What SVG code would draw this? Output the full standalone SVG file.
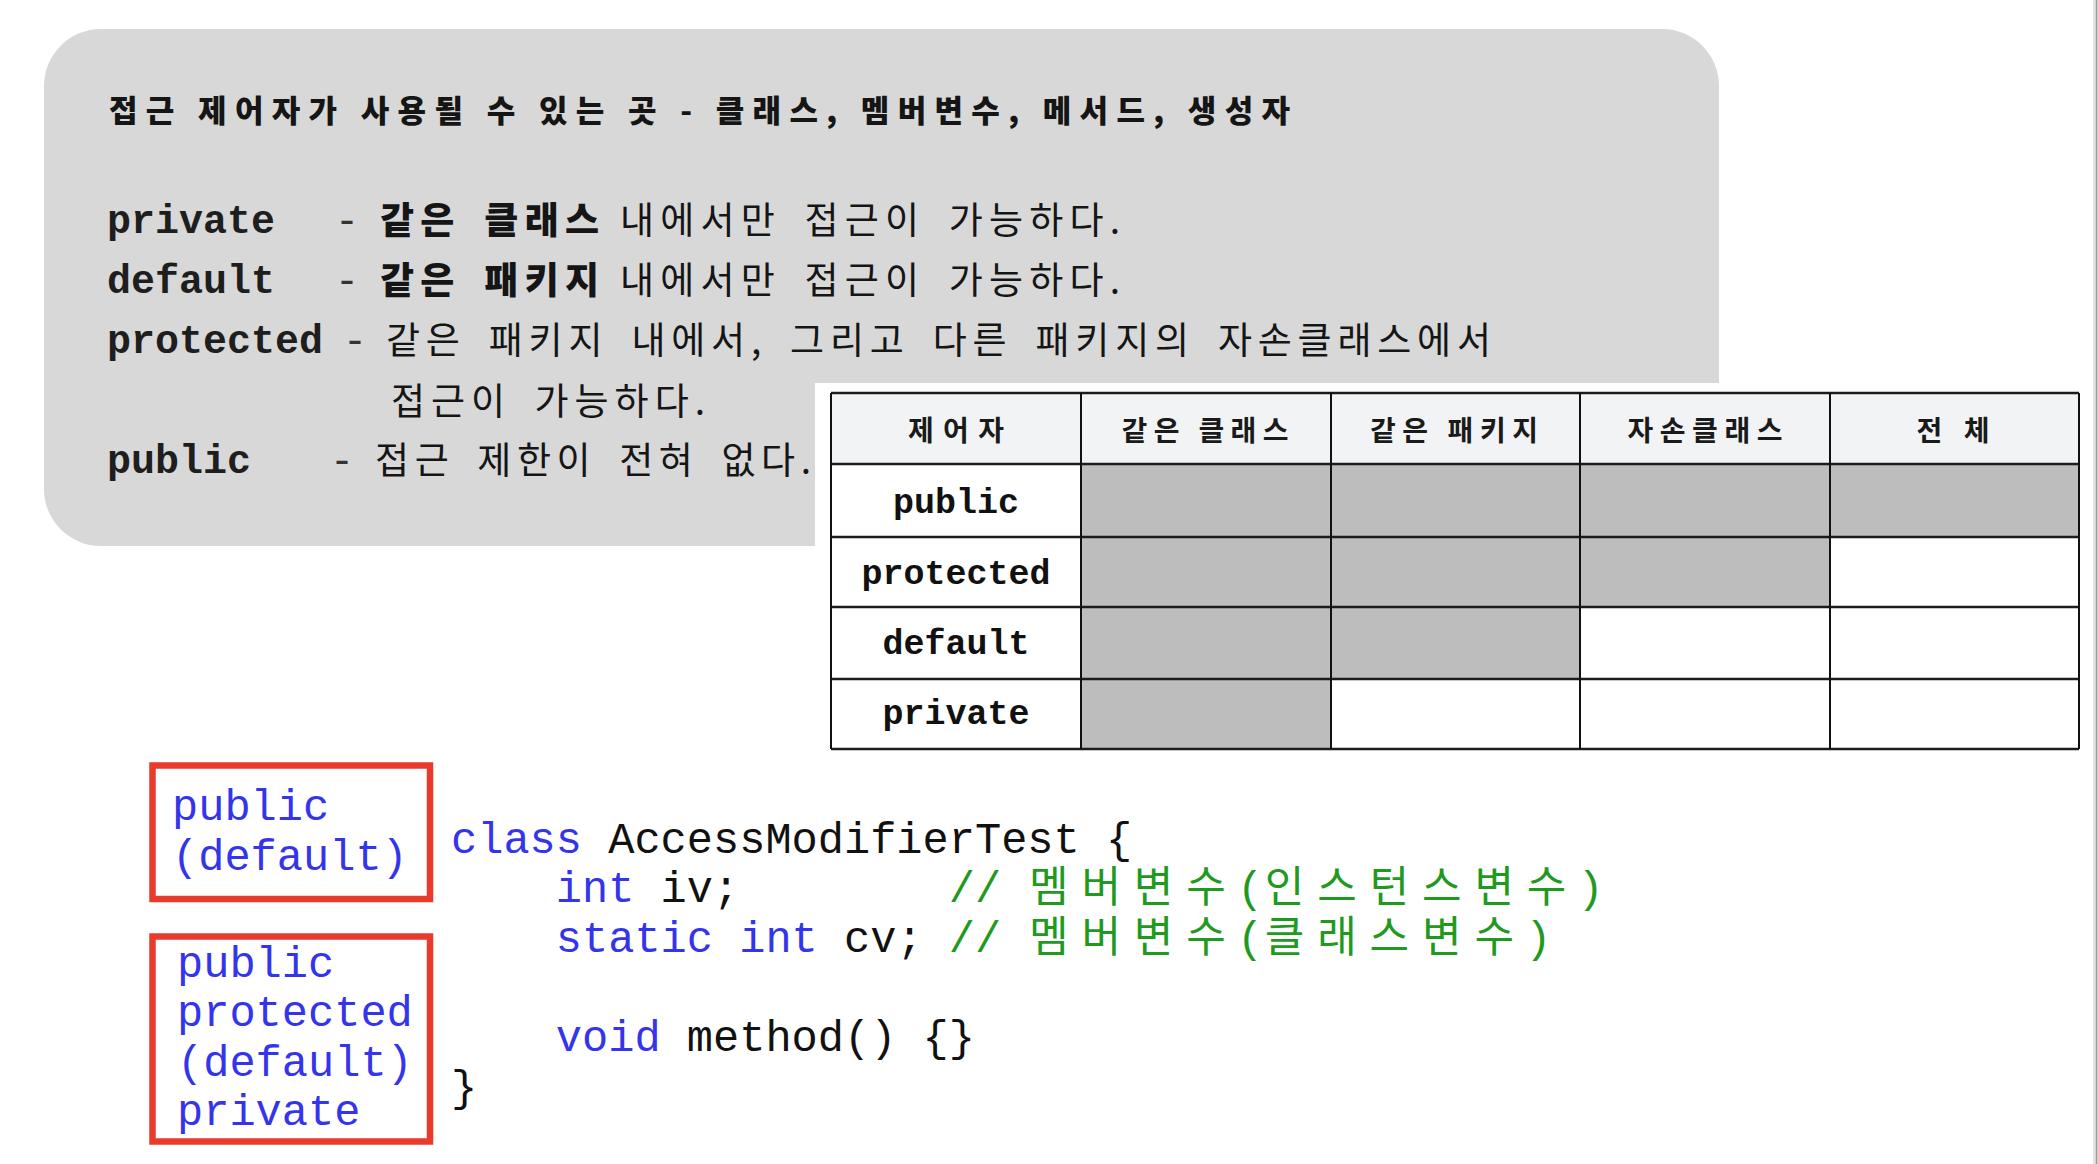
<svg xmlns="http://www.w3.org/2000/svg" width="2098" height="1164" viewBox="0 0 2098 1164">
<style>
  .kr { font-family: "Noto Sans CJK KR", "Noto Sans", sans-serif; fill: #151515; }
  .kb { font-weight: 900; }
  .body { font-size: 37px; word-spacing: 9px; }
  .mono { font-family: "Liberation Mono", "DejaVu Sans Mono", monospace; }
  .lbl { font-size: 40px; font-weight: bold; fill: #1e1e1e; }
  .dash { font-size: 40px; fill: #333; }
  .th { font-size: 28px; font-weight: bold; text-anchor: middle; fill: #1a1a1a; }
  .td { font-size: 35px; font-weight: bold; text-anchor: middle; fill: #111; }
  .code { font-size: 43.67px; }
  .kw { fill: #3434ec; }
  .id { fill: #111; }
  .cm { fill: #1f9a1f; }
  .cmk { font-family: "Noto Sans CJK KR", sans-serif; font-size: 43px; fill: #1f9a1f; }
  .redbox { fill: #ffffff; stroke: #ea3a2c; stroke-width: 6.5; }
  .hl { stroke: #1c1c1c; stroke-width: 2.5; }
  .vl { stroke: #111; stroke-width: 2; }
  .shade { fill: #bcbdbc; }
</style>
<rect x="0" y="0" width="2098" height="1164" fill="#ffffff"/>

<g id="info-box">
  <rect x="44" y="29" width="1675" height="517" rx="57" ry="57" fill="#d8d8d8"/>
  <text class="kr kb" x="109" y="122" font-size="31" textLength="1181" lengthAdjust="spacing">접근 제어자가 사용될 수 있는 곳 - 클래스, 멤버변수, 메서드, 생성자</text>

  <text class="mono lbl" x="107" y="233">private</text>
  <text class="mono dash" x="335" y="233">-</text>
  <text class="kr kb body" x="380" y="234" textLength="219" lengthAdjust="spacing">같은 클래스</text>
  <text class="kr body" x="620" y="234" textLength="500" lengthAdjust="spacing">내에서만 접근이 가능하다.</text>

  <text class="mono lbl" x="107" y="293">default</text>
  <text class="mono dash" x="335" y="293">-</text>
  <text class="kr kb body" x="380" y="294" textLength="219" lengthAdjust="spacing">같은 패키지</text>
  <text class="kr body" x="620" y="294" textLength="500" lengthAdjust="spacing">내에서만 접근이 가능하다.</text>

  <text class="mono lbl" x="107" y="353">protected</text>
  <text class="mono dash" x="343" y="353">-</text>
  <text class="kr body" x="386" y="354" textLength="1105" lengthAdjust="spacing">같은 패키지 내에서, 그리고 다른 패키지의 자손클래스에서</text>
  <text class="kr body" x="391" y="415" textLength="314" lengthAdjust="spacing">접근이 가능하다.</text>

  <text class="mono lbl" x="107" y="473">public</text>
  <text class="mono dash" x="330" y="473">-</text>
  <text class="kr body" x="375" y="474" textLength="436" lengthAdjust="spacing">접근 제한이 전혀 없다.</text>
</g>

<g id="access-table">
  <rect x="815" y="383" width="1283" height="380" fill="#ffffff"/>
  <rect x="831" y="393" width="1248" height="71" fill="#f2f3f5"/>
  <rect class="shade" x="1081" y="464" width="998" height="73"/>
  <rect class="shade" x="1081" y="537" width="749" height="70"/>
  <rect class="shade" x="1081" y="607" width="499" height="72"/>
  <rect class="shade" x="1081" y="679" width="250" height="70"/>
  <g>
    <line class="hl" x1="831" y1="393" x2="2079" y2="393"/>
    <line class="hl" x1="831" y1="464" x2="2079" y2="464"/>
    <line class="hl" x1="831" y1="537" x2="2079" y2="537"/>
    <line class="hl" x1="831" y1="607" x2="2079" y2="607"/>
    <line class="hl" x1="831" y1="679" x2="2079" y2="679"/>
    <line class="hl" x1="831" y1="749" x2="2079" y2="749"/>
    <line class="vl" x1="831" y1="393" x2="831" y2="749"/>
    <line class="vl" x1="1081" y1="393" x2="1081" y2="749"/>
    <line class="vl" x1="1331" y1="393" x2="1331" y2="749"/>
    <line class="vl" x1="1580" y1="393" x2="1580" y2="749"/>
    <line class="vl" x1="1830" y1="393" x2="1830" y2="749"/>
    <line class="vl" x1="2079" y1="393" x2="2079" y2="749"/>
  </g>
  <text class="kr th" x="956" y="441" textLength="96" lengthAdjust="spacing">제어자</text>
  <text class="kr th" x="1205" y="441" textLength="167" lengthAdjust="spacing">같은 클래스</text>
  <text class="kr th" x="1454" y="441" textLength="168" lengthAdjust="spacing">같은 패키지</text>
  <text class="kr th" x="1705" y="441" textLength="155" lengthAdjust="spacing">자손클래스</text>
  <text class="kr th" x="1953" y="441" textLength="73" lengthAdjust="spacing">전 체</text>
  <text class="mono td" x="956" y="513">public</text>
  <text class="mono td" x="956" y="584">protected</text>
  <text class="mono td" x="956" y="654">default</text>
  <text class="mono td" x="956" y="724">private</text>
</g>

<g id="modifier-box-class">
  <rect class="redbox" x="152.5" y="765.5" width="277.5" height="133.5"/>
  <text class="mono code kw" x="172" y="820">public</text>
  <text class="mono code kw" x="172" y="870">(default)</text>
</g>

<g id="modifier-box-member">
  <rect class="redbox" x="152.5" y="936.5" width="277.5" height="205"/>
  <text class="mono code kw" x="177" y="977">public</text>
  <text class="mono code kw" x="177" y="1026">protected</text>
  <text class="mono code kw" x="177" y="1076">(default)</text>
  <text class="mono code kw" x="177" y="1125">private</text>
</g>

<g id="code">
  <text class="mono code" y="853"><tspan class="kw" x="451">class</tspan><tspan class="id" x="608.2">AccessModifierTest</tspan><tspan class="id" x="1106.0">{</tspan></text>
  <text class="mono code" y="902"><tspan class="kw" x="555.8">int</tspan><tspan class="id" x="660.6">iv;</tspan><tspan class="cm" x="948.8">//</tspan><tspan class="cmk" x="1029 1081.4 1133.8 1186.2">멤버변수</tspan><tspan class="cm" x="1237">(</tspan><tspan class="cmk" x="1264.8 1317.2 1369.6 1422 1474.4 1526.8">인스턴스변수</tspan><tspan class="cm" x="1577.6">)</tspan></text>
  <text class="mono code" y="952"><tspan class="kw" x="555.8">static</tspan><tspan class="kw" x="739.2">int</tspan><tspan class="id" x="844">cv;</tspan><tspan class="cm" x="948.8">//</tspan><tspan class="cmk" x="1029 1081.4 1133.8 1186.2">멤버변수</tspan><tspan class="cm" x="1237">(</tspan><tspan class="cmk" x="1264.8 1317.2 1369.6 1422 1474.4">클래스변수</tspan><tspan class="cm" x="1525.2">)</tspan></text>
  <text class="mono code" y="1051.4"><tspan class="kw" x="555.8">void</tspan><tspan class="id" x="686.8">method()</tspan><tspan class="id" x="922.6">{}</tspan></text>
  <text class="mono code id" x="451" y="1101">}</text>
</g>

<g id="page-edge">
  <rect x="2093" y="0" width="5" height="1164" fill="#e4e4e4"/>
  <line x1="2096.5" y1="0" x2="2096.5" y2="1164" stroke="#9c9c9c" stroke-width="1.5"/>
</g>
</svg>
